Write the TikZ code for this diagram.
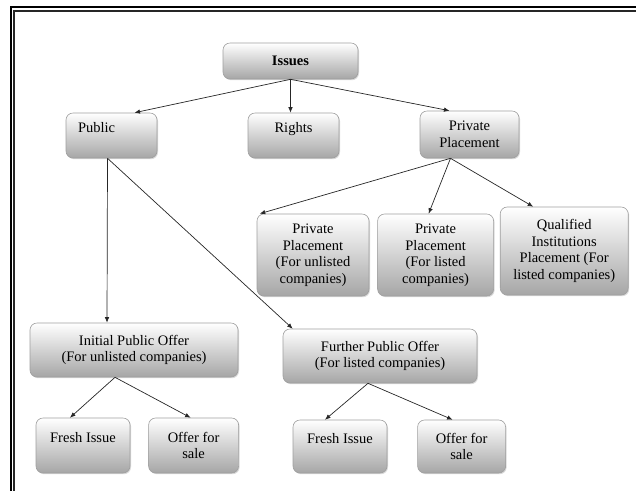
\documentclass[tikz,border=0pt]{standalone}
\usepackage{fontspec}
\setmainfont{Liberation Serif}
\usetikzlibrary{arrows.meta, positioning, shadows}

\begin{document}
\begin{tikzpicture}[x=1pt, y=-1pt,
  box/.style={rectangle, rounded corners=7pt, draw=gray!75, line width=0.6pt,
              top color=white, bottom color=gray!70, align=center, inner sep=2pt,
              font=\fontsize{14.5}{16.5}\selectfont,
              drop shadow={shadow xshift=1pt, shadow yshift=-1.2pt, opacity=0.3}},
  arr/.style={-{Latex[length=5.5pt,width=4.5pt]}, line width=0.7pt, draw=black!85},
  frame/.style={line width=2pt},
  node distance=8pt
]
  \useasboundingbox (0,0) rectangle (636,491);
  \draw[frame] (10.5,491) -- (10.5,7) -- (636,7);
  \draw[frame, black!85] (14,491) -- (14,11) -- (636,11);

  \node[box, minimum width=135pt, minimum height=36pt,
        font=\fontsize{14.5}{16.5}\selectfont\bfseries] (issues) at (290.5,61) {Issues};

  \node[box, minimum width=91pt, minimum height=45pt, align=left,
        text width=67pt, inner xsep=12pt] (public) at (111.5,135.5) {Public\\~};
  \node[box, minimum width=91pt, minimum height=45pt] (rights) at (293.5,135.5) {Rights\\~};
  \node[box, minimum width=99pt, minimum height=47pt] (privpl) at (469.5,134.5) {Private\\Placement};

  \node[box, minimum width=112pt, minimum height=82pt] (ppun) at (313,255)
       {Private\\Placement\\(For unlisted\\companies)};
  \node[box, minimum width=116pt, minimum height=82pt, right=of ppun] (ppli)
       {Private\\Placement\\(For listed\\companies)};
  \node[box, minimum width=128pt, minimum height=88pt, right=6pt of ppli, yshift=4pt] (qip)
       {Qualified\\Institutions\\Placement (For\\listed companies)};

  \node[box, minimum width=208pt, minimum height=54pt] (ipo) at (134,350)
       {Initial Public Offer\\(For unlisted companies)};
  \node[box, minimum width=194pt, minimum height=54pt] (fpo) at (380,356)
       {Further Public Offer\\(For listed companies)};

  \node[box, minimum width=94pt, minimum height=55pt] (fresha) at (83,445.5) {Fresh Issue\\~};
  \node[box, minimum width=90pt, minimum height=55pt, right=18pt of fresha] (offera) {Offer for\\sale};
  \node[box, minimum width=94pt, minimum height=53pt] (freshb) at (340,446.5) {Fresh Issue\\~};
  \node[box, minimum width=88pt, minimum height=53pt, right=30pt of freshb] (offerb) {Offer for\\sale};

  \draw[arr] (issues.south) -- ([xshift=23pt]public.north);
  \draw[arr] (issues.south) -- (issues.south |- rights.north);
  \draw[arr] (issues.south) -- ([xshift=-20pt]privpl.north);

  \draw[arr] ([xshift=-19pt]privpl.south) -- ([xshift=3pt]ppun.north west);
  \draw[arr] ([xshift=-19pt]privpl.south) -- ([xshift=-7pt]ppli.north);
  \draw[arr] ([xshift=-19pt]privpl.south) -- ([xshift=-31pt]qip.north);

  \draw[arr] ([xshift=-4pt]public.south) -- ([xshift=-27pt]ipo.north);
  \draw[arr] ([xshift=-4pt]public.south) -- ([xshift=10pt]fpo.north west);

  \draw[arr] ([xshift=-19pt]ipo.south) -- ([xshift=-13pt]fresha.north);
  \draw[arr] ([xshift=-19pt]ipo.south) -- ([xshift=-3pt]offera.north);
  \draw[arr] ([xshift=-12pt]fpo.south) -- ([xshift=-15pt]freshb.north);
  \draw[arr] ([xshift=-12pt]fpo.south) -- ([xshift=-9pt]offerb.north);
\end{tikzpicture}
\end{document}
